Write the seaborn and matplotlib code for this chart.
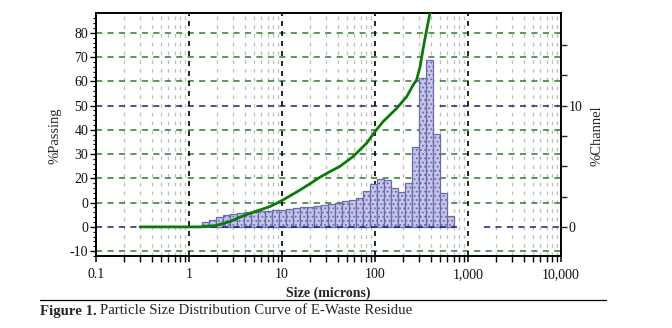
import numpy as np
import matplotlib
matplotlib.use("Agg")
import matplotlib.pyplot as plt
from matplotlib.lines import Line2D
import seaborn as sns

# ---------------- data ----------------
# channel edges (microns), standard root-4-of-2 sieve series
channel_edges = [1.375, 1.635, 1.945, 2.312, 2.750, 3.270, 3.889, 4.625, 5.500,
                 6.541, 7.778, 9.250, 11.00, 13.08, 15.56, 18.50, 22.00, 26.16,
                 31.11, 37.00, 44.00, 52.33, 62.23, 74.00, 88.00, 104.7, 124.5,
                 148.0, 176.0, 209.3, 248.9, 296.0, 352.0, 418.6, 497.8, 592.0, 704.0]
# % in each channel (right axis)
pct_channel = [0.42, 0.56, 0.84, 0.98, 1.04, 1.12, 1.20, 1.24, 1.28, 1.32, 1.36,
               1.40, 1.46, 1.52, 1.60, 1.66, 1.74, 1.80, 1.90, 1.98, 2.10, 2.20,
               2.40, 2.96, 3.50, 3.96, 3.88, 3.20, 2.86, 3.64, 6.56, 12.24, 13.74,
               7.68, 2.78, 0.86]
# cumulative % passing curve (left axis)
curve_size = [0.297, 1.31, 1.91, 2.76, 3.53, 4.53, 5.80, 7.43, 9.5, 12.2, 15.6,
              20.0, 25.6, 32.8, 42.1, 58.1, 81.2, 100, 122, 171, 219, 258, 280,
              305, 331, 359, 390, 497.8, 592, 704]
curve_pass = [0, 0, 0.5, 2.2, 4.0, 5.6, 7.0, 8.4, 10.4, 12.8, 15.2, 17.8, 20.5,
              22.8, 25.0, 29.0, 34.5, 39.3, 43.4, 48.9, 53.7, 58.6, 60.6, 66.0,
              74.0, 81.2, 88.1, 96.4, 99.1, 100]

left_ticks = [-10, 0, 10, 20, 30, 40, 50, 60, 70, 80]
left_labels = ["-10", "0", "0", "20", "30", "40", "50", "60", "70", "80"]
right_ticks = [0, 2.5, 5, 7.5, 10, 12.5, 15]
right_labels = ["0", "", "", "", "10", "", ""]
x_ticks = [0.1, 1, 10, 100, 1000, 10000]
x_labels = ["0.1", "1", "10", "100", "1,000", "10,000"]

# ---------------- style ----------------
sns.set_theme(style="white")
plt.rcParams["font.family"] = ["Liberation Serif", "DejaVu Serif"]
plt.rcParams["hatch.linewidth"] = 0.8

W, H = 672, 328
fig = plt.figure(figsize=(W / 100, H / 100), dpi=100)
L, R, T, B = 96, 561, 13, 256
ax = fig.add_axes([L / W, 1 - B / H, (R - L) / W, (B - T) / H])
ax.set_xscale("log")
ax.set_xlim(0.1, 10000)
ax.set_ylim(-12.0, 88.2)
ax2 = ax.twinx()
ax2.set_ylim(-12.0 / 5, 88.2 / 5)
ax.set_zorder(3)
ax.patch.set_visible(False)
ax2.set_zorder(1)

# grid (drawn on back axis, positioned in left-axis units)
ytrans = ax.get_yaxis_transform()
for v in left_ticks:
    col = "#1f1f7a" if v in (0, 50) else "#2f7a2f"
    if v == 0:
        continue
    ax2.add_line(Line2D([0, 1], [v, v], transform=ytrans, color=col, lw=1.1,
                        linestyle=(0, (4, 3.5)), zorder=0.5))
# zero line with gap
for x0, x1 in [(0.1, 760), (1500, 10000)]:
    ax2.add_line(Line2D([x0, x1], [0, 0], transform=ax.transData, color="#1f1f7a",
                        lw=1.1, linestyle=(0, (4, 3.5)), zorder=2.5))
for dec in [0.1, 1, 10, 100, 1000]:
    for m in range(2, 10):
        ax2.axvline(dec * m, color="#bdbdbd", lw=0.9, linestyle=(0, (3, 4)), zorder=0.4)
for d in [1, 10, 100, 1000]:
    ax2.axvline(d, color="black", lw=1.2, linestyle=(0, (3, 3)), zorder=0.6)

# bars
centers = [float(np.sqrt(a * b)) for a, b in zip(channel_edges[:-1], channel_edges[1:])]
log_edges = [float(np.log10(e)) for e in channel_edges]
sns.histplot(x=centers, weights=pct_channel, bins=log_edges,
             log_scale=True, ax=ax2, stat="count", element="bars", fill=True,
             color="#c6c6e6", edgecolor="#6a6ab2", linewidth=0.9, alpha=1,
             hatch="....", zorder=2)
for p in ax2.patches:
    try:
        p.set_hatchcolor("#8484c2")
    except Exception:
        pass
ax2.set_xscale("log")
ax2.set_xlim(0.1, 10000)
ax2.set_ylim(-12.0 / 5, 88.2 / 5)

# cumulative curve
sns.lineplot(x=curve_size, y=curve_pass, ax=ax, color="#0b7a0b", lw=2.0, zorder=5)

# ticks
ax.set_yticks(left_ticks)
ax.set_yticklabels(left_labels)
ax.set_yticks(np.arange(-12, 88, 2), minor=True)
ax.set_xticks(x_ticks)
ax.set_xticklabels(x_labels)
ax.set_xticks([d * m for d in [0.1, 1, 10, 100, 1000] for m in range(2, 10)], minor=True)
ax.xaxis.set_minor_formatter(matplotlib.ticker.NullFormatter())
ax.tick_params(axis="both", which="both", direction="out", color="black",
               labelsize=10, labelcolor="#111111")
ax.tick_params(axis="y", which="major", length=4, width=1, pad=1.5, left=True)
ax.tick_params(axis="y", which="minor", length=2.5, width=0.8, left=True)
ax.tick_params(axis="x", which="major", length=4, width=1.1, pad=5, bottom=True)
ax.tick_params(axis="x", which="minor", length=4, width=1, bottom=True)
ax.set_xlabel("")
ax.set_ylabel("")
ax2.set_yticks(right_ticks)
ax2.set_yticklabels(right_labels)
ax2.tick_params(axis="y", which="major", direction="out", length=4, width=1,
                pad=1.5, labelsize=10, right=True, labelcolor="#111111")
ax2.set_ylabel("")
ax2.set_xlabel("")
for a in (ax, ax2):
    for s in a.spines.values():
        s.set_visible(True)
        s.set_color("black")
        s.set_linewidth(1.2)

# labels
fig.text(328 / W, 1 - 293 / H, "Size (microns)", ha="center", va="center",
         fontsize=10, fontweight="bold")
fig.text(55 / W, 1 - 136 / H, "%Passing", ha="center", va="center",
         rotation=90, fontsize=10.5)
fig.text(597 / W, 1 - 136 / H, "%Channel", ha="center", va="center",
         rotation=90, fontsize=10.5)

# caption
fig.add_artist(Line2D([40 / W, 606 / W], [1 - 300 / H] * 2, color="black", lw=0.9))
t1 = fig.text(40 / W, 1 - 311 / H, "Figure 1.", ha="left", va="center",
              fontsize=10.7, fontweight="bold")
fig.canvas.draw()
bb = t1.get_window_extent(renderer=fig.canvas.get_renderer())
fig.text(bb.x1 / W + 3 / W, 1 - 311 / H,
         "Particle Size Distribution Curve of E-Waste Residue",
         ha="left", va="center", fontsize=10.7)

fig.savefig("out.png", dpi=100, facecolor="white")
